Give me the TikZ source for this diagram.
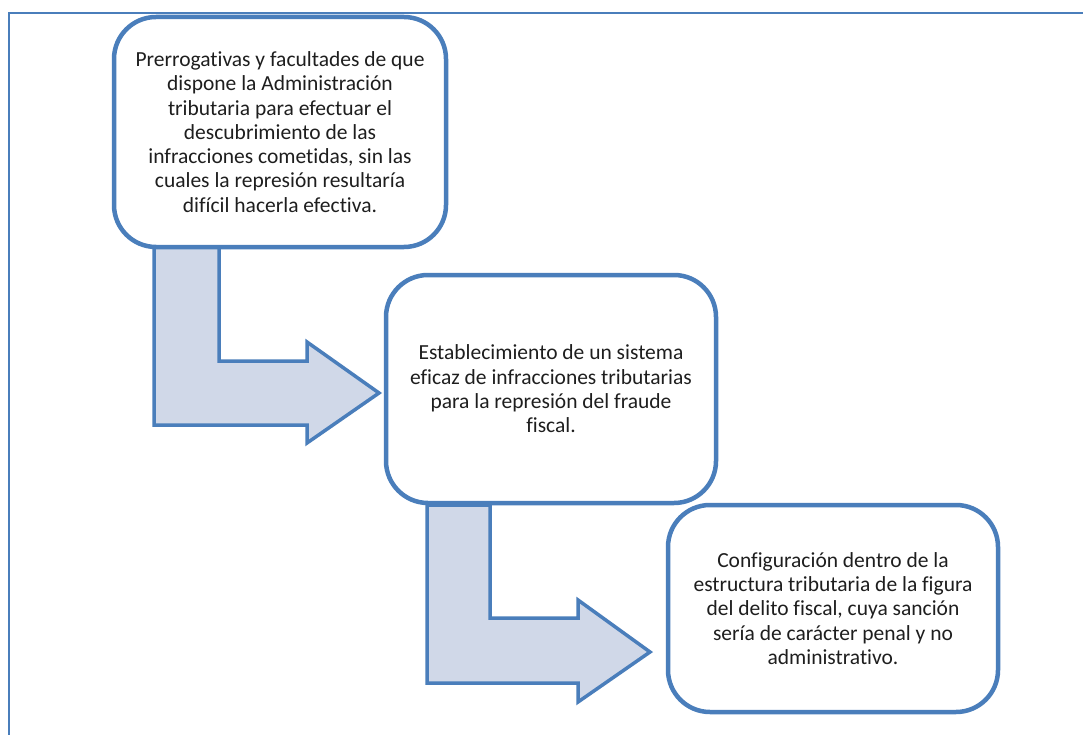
\documentclass[tikz,border=0pt]{standalone}
\usepackage{fontspec}
\setmainfont{Carlito}[Ligatures=NoCommon]
\definecolor{boxblue}{HTML}{4A7EBB}
\definecolor{arrowfill}{HTML}{D0D8E8}
\definecolor{txt}{HTML}{1E1E1E}
\begin{document}
\begin{tikzpicture}[x=1pt,y=-1pt,
  stepbox/.style={draw=boxblue,line width=4.5pt,fill=white,rounded corners=42pt,
    text=txt,align=center,font=\fontsize{21.5}{24.3}\selectfont,inner sep=0pt},
  bentarrow/.style={draw=boxblue,line width=3.5pt,fill=arrowfill,line join=miter}]
\useasboundingbox (0,0) rectangle (1083,735);
\fill[white] (0,0) rectangle (1083,735);
\draw[boxblue,line width=2.5pt] (9,740) -- (9,13) -- (1090,13);
% bent arrows
\draw[bentarrow] (154,246) -- (219,246) -- (219,361) -- (307,361) -- (307,342)
  -- (379,393) -- (307,443) -- (307,425) -- (154,425) -- cycle;
\draw[bentarrow] (427,505) -- (490,505) -- (490,618) -- (578,618) -- (578,600)
  -- (650,652) -- (578,702) -- (578,683) -- (427,683) -- cycle;
% boxes
\node[stepbox,minimum width=332pt,minimum height=230pt] (b1) at (280,132)
  {Prerrogativas y facultades de que\\dispone la Administración\\tributaria para efectuar el\\descubrimiento de las\\infracciones cometidas, sin las\\cuales la represión resultaría\\difícil hacerla efectiva.};
\node[stepbox,minimum width=330pt,minimum height=228pt] (b2) at (551,389)
  {Establecimiento de un sistema\\eficaz de infracciones tributarias\\para la represión del fraude\\fiscal.};
\node[stepbox,minimum width=330pt,minimum height=207pt] (b3) at (833,608.5)
  {Configuración dentro de la\\estructura tributaria de la figura\\del delito fiscal, cuya sanción\\sería de carácter penal y no\\administrativo.};
\end{tikzpicture}
\end{document}
